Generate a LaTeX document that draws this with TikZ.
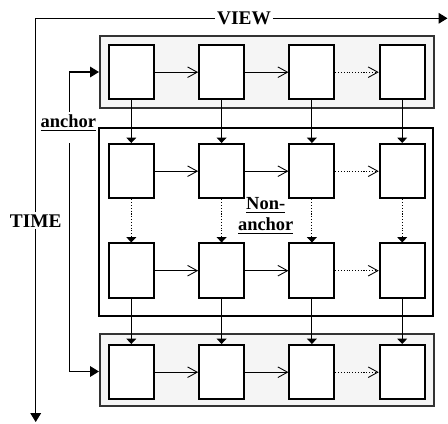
\documentclass[tikz,border=0pt]{standalone}
\usepackage{fontspec}
\setmainfont{Liberation Serif}
\usetikzlibrary{arrows.meta}
\begin{document}
\begin{tikzpicture}[x=0.02cm,y=-0.02cm,
  cell/.style={draw,fill=white,line width=1.1pt,minimum width=0.9cm,minimum height=1.09cm,inner sep=0pt},
  grayband/.style={draw=black!80,fill=black!4,line width=0.9pt,minimum width=6.686cm,minimum height=1.44cm,inner sep=0pt},
  nonband/.style={draw,line width=1.1pt,minimum width=6.686cm,minimum height=3.754cm,inner sep=0pt},
  harrow/.style={line width=0.6pt,-{Straight Barb[length=5.5pt,width=6pt,line width=0.5pt]}},
  varrow/.style={line width=0.6pt,-{Triangle[length=3pt,width=5.5pt]}},
  bigarrow/.style={line width=0.6pt,-{Triangle[length=5pt,width=6pt]}},
  lbl/.style={font=\bfseries\fontsize{10.5}{11}\selectfont,inner sep=1pt},
  axislbl/.style={font=\bfseries\fontsize{11}{12}\selectfont,inner sep=1pt}]
\useasboundingbox (0,0) rectangle (448,423);
% bands
\node[grayband] (tg) at (266.85,72) {};
\node[nonband] (mid) at (266.15,222.15) {};
\node[grayband] (bg) at (266.85,370) {};
% cells
\foreach \r/\y in {1/72.2,2/171.2,3/270.7,4/372.2}{
  \foreach \c/\x in {1/131.3,2/221.6,3/311.9,4/402.2}{
    \node[cell] (c\r\c) at (\x,\y) {};
  }
}
% horizontal connectors
\foreach \r in {1,2,3,4}{
  \draw[harrow] (c\r1.east) -- (c\r2.west);
  \draw[harrow] (c\r2.east) -- (c\r3.west);
  \draw[harrow,densely dotted] (c\r3.east) -- (c\r4.west);
}
% vertical connectors
\foreach \c in {1,2,3,4}{
  \draw[varrow] (c1\c.south) -- (c2\c.north);
  \draw[varrow,densely dotted] (c2\c.south) -- (c3\c.north);
  \draw[varrow] (c3\c.south) -- (c4\c.north);
}
% labels
\node[lbl] (anc) at (68.3,123) {\underline{anchor}};
\node[lbl,align=center] (non) at (265.7,216) {\underline{Non-}\\[1pt]\underline{anchor}};
\node[axislbl] (view) at (244,18.3) {VIEW};
\node[axislbl] (time) at (35.7,220.7) {TIME};
% axes
\coordinate (corner) at (35.7,18.3);
\coordinate (vend) at (447.5,18.3);
\coordinate (tend) at (35.7,422);
\draw[line width=0.6pt] (corner) -- (view.west);
\draw[bigarrow] (view.east) -- (vend);
\draw[line width=0.6pt] (corner) -- (time.north);
\draw[bigarrow] (time.south) -- (tend);
% anchor arrows
\coordinate (a1) at (69.3,111.7);
\coordinate (a2) at (69.3,143.3);
\draw[bigarrow] (a1) |- (tg.west);
\draw[bigarrow] (a2) |- ([yshift=-0.03cm]bg.west);
\end{tikzpicture}
\end{document}
